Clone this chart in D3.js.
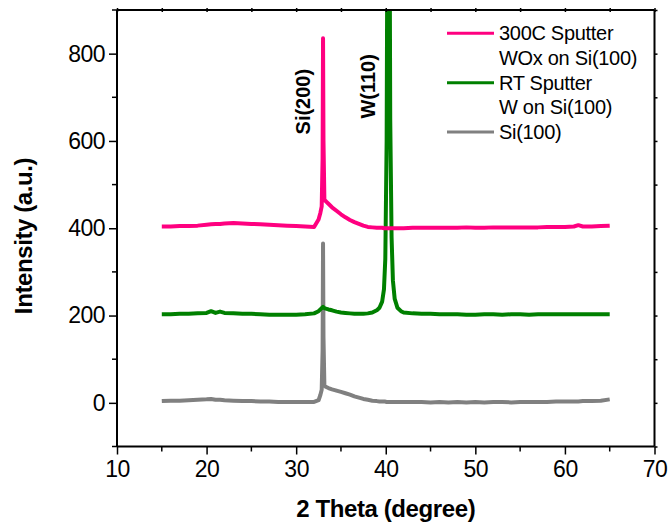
<!DOCTYPE html>
<html><head><meta charset="utf-8">
<script src="https://cdn.jsdelivr.net/npm/d3@7"></script>
<style>
body{margin:0;background:#fff;}
text{font-family:"Liberation Sans",Arial,sans-serif;}
</style></head>
<body><svg id="c" width="670" height="527"></svg>
<script>
// 2-theta grid (degrees)
const theta = [15,16,17,18,19,20,20.5,21,21.5,22,23,24,25,26,27,28,29,30,31,32,32.5,32.7,32.85,32.95,33.0,33.05,33.15,33.3,33.6,34,34.5,35,35.5,36,36.5,37,37.5,38,38.5,39,39.3,39.6,39.8,39.95,40.1,40.2,40.3,40.4,40.5,40.65,40.8,41,41.3,41.7,42,43,44,45,46,47,48,49,50,51,52,53,54,55,56,57,58,59,60,61,61.5,62,63,64,65];
// Intensities (a.u.)
const siValues = [4,5,5,6,7,8,9,7,7,6,5,4,4,3,3,2,2,2,2,2,6,18,30,120,365,150,40,37,34,31,28,25,22,19,15,12,9,7,5,4,3,3,3,3,2,2,2,2,2,2,2,2,2,2,2,2,2,1,2,1,2,1,2,1,2,2,1,2,2,2,2,3,3,3,3,4,4,5,8];
const wValues = [203,203,204,204,205,206,210,206,209,206,205,204,204,203,202,202,202,202,203,205,210,214,217,219,220,219,217,216,214,212,209,207,206,205,204,204,204,205,207,212,218,232,260,330,600,1200,2200,1300,650,380,280,238,218,210,207,205,204,204,203,203,203,202,202,203,203,202,203,203,202,203,203,203,203,203,203,203,203,203,203];
const woxValues = [404,404,405,405,406,408,409,410,410,411,412,411,410,409,408,407,406,405,404,403,420,435,450,560,835,600,466,462,456,448,440,432,425,419,414,410,406,403,402,401,401,401,400,400,400,400,400,400,400,400,400,400,400,400,400,401,401,401,401,401,401,402,401,401,402,402,402,402,402,402,403,403,403,404,407,404,404,405,406];

const seriesNames = ["300C Sputter\nWOx on Si(100)","RT Sputter\nW on Si(100)","Si(100)"];
const seriesColors = ["#ff0080","#008000","#808080"];
const seriesData = [woxValues, wValues, siValues];

const xTicks = [10,20,30,40,50,60,70];
const yTicks = [0,200,400,600,800];
const xMinor = [15,25,35,45,55,65];
const yMinor = [-100,100,300,500,700,900];

const annotations = [{text:"Si(200)", x:33.0, y:690, dx:-13},{text:"W(110)", x:40.3, y:725, dx:-13}];

const svg = d3.select("#c");
const m = {l:117, t:10, r:15.5, b:80.5};
const W = 670, H = 527;
const x = d3.scaleLinear().domain([10,70]).range([m.l, W-m.r]);
const y = d3.scaleLinear().domain([-100,900]).range([H-m.b, m.t]);

svg.append("defs").append("clipPath").attr("id","clip")
  .append("rect").attr("x",m.l).attr("y",m.t).attr("width",W-m.l-m.r).attr("height",H-m.t-m.b);

// series
const line = d3.line().x((d,i)=>x(theta[i])).y(d=>y(d));
const g = svg.append("g").attr("clip-path","url(#clip)");
[2,1,0].forEach(k=>{
  g.append("path").datum(seriesData[k]).attr("d",line)
    .attr("fill","none").attr("stroke",seriesColors[k]).attr("stroke-width",4)
    .attr("stroke-linejoin","round");
});

// axes
const fs = "23px";
const bx = svg.append("g").attr("transform",`translate(0,${H-m.b})`)
  .call(d3.axisBottom(x).tickValues(xTicks).tickSize(8).tickPadding(6).tickFormat(d3.format("d")));
bx.append("g").selectAll("line").data(xMinor).join("line")
  .attr("x1",d=>x(d)).attr("x2",d=>x(d)).attr("y1",0).attr("y2",5).attr("stroke","#000").attr("stroke-width",1.5);
const by = svg.append("g").attr("transform",`translate(${m.l},0)`)
  .call(d3.axisLeft(y).tickValues(yTicks).tickSize(8).tickPadding(4).tickFormat(d3.format("d")));
by.append("g").selectAll("line").data(yMinor).join("line")
  .attr("y1",d=>y(d)).attr("y2",d=>y(d)).attr("x1",0).attr("x2",-5).attr("stroke","#000").attr("stroke-width",1.5);
const bt = svg.append("g").attr("transform",`translate(0,${m.t})`)
  .call(d3.axisTop(x).tickValues(xTicks.concat(xMinor)).tickSize(2).tickFormat(""));
bt.selectAll(".tick line").attr("y2",-2).attr("y1",2);
const br = svg.append("g").attr("transform",`translate(${W-m.r},0)`)
  .call(d3.axisRight(y).tickValues(yTicks.concat(yMinor)).tickSize(3).tickFormat(""));
[bx,by,bt,br].forEach(a=>{
  a.select(".domain").attr("stroke","#000").attr("stroke-width",2);
  a.selectAll(".tick line").attr("stroke","#000").attr("stroke-width",1.5);
  a.selectAll(".tick text").attr("font-size",fs).attr("fill","#000")
    .style("font-family","'Liberation Sans',Arial,sans-serif").style("letter-spacing","-0.5px");
});
bx.select(".domain").attr("d",`M${m.l},0H${W-m.r}`);
by.select(".domain").attr("d",`M0,${m.t}V${H-m.b}`);
bt.select(".domain").attr("d",`M${m.l},0H${W-m.r}`);
br.select(".domain").attr("d",`M0,${m.t}V${H-m.b}`);

// axis titles
svg.append("text").attr("x",(m.l+W-m.r)/2).attr("y",517).attr("text-anchor","middle")
  .attr("font-size","24px").attr("font-weight","bold").style("letter-spacing","-0.4px").text("2 Theta (degree)");
svg.append("text").attr("transform","translate(32,236) rotate(-90)").attr("text-anchor","middle")
  .attr("font-size","24px").attr("font-weight","bold").style("letter-spacing","-0.4px").text("Intensity (a.u.)");

// annotations
annotations.forEach(a=>{
  svg.append("text").attr("transform",`translate(${x(a.x)+a.dx},${y(a.y)}) rotate(-90)`)
    .attr("text-anchor","middle").attr("font-size","20px").attr("font-weight","bold").text(a.text);
});

// legend
const lg = svg.append("g");
let row = 0;
const rowH = 24.7, ly0 = 33.3;
seriesNames.forEach((n,k)=>{
  const cy = ly0 + row*rowH;
  lg.append("line").attr("x1",447).attr("x2",494).attr("y1",cy).attr("y2",cy)
    .attr("stroke",seriesColors[k]).attr("stroke-width",3);
  n.split("\n").forEach((t,j)=>{
    lg.append("text").attr("x",499).attr("y",ly0 + (row+j)*rowH + 7)
      .attr("font-size","20px").style("letter-spacing","-0.3px").text(t);
  });
  row += n.split("\n").length;
});
</script></body></html>
